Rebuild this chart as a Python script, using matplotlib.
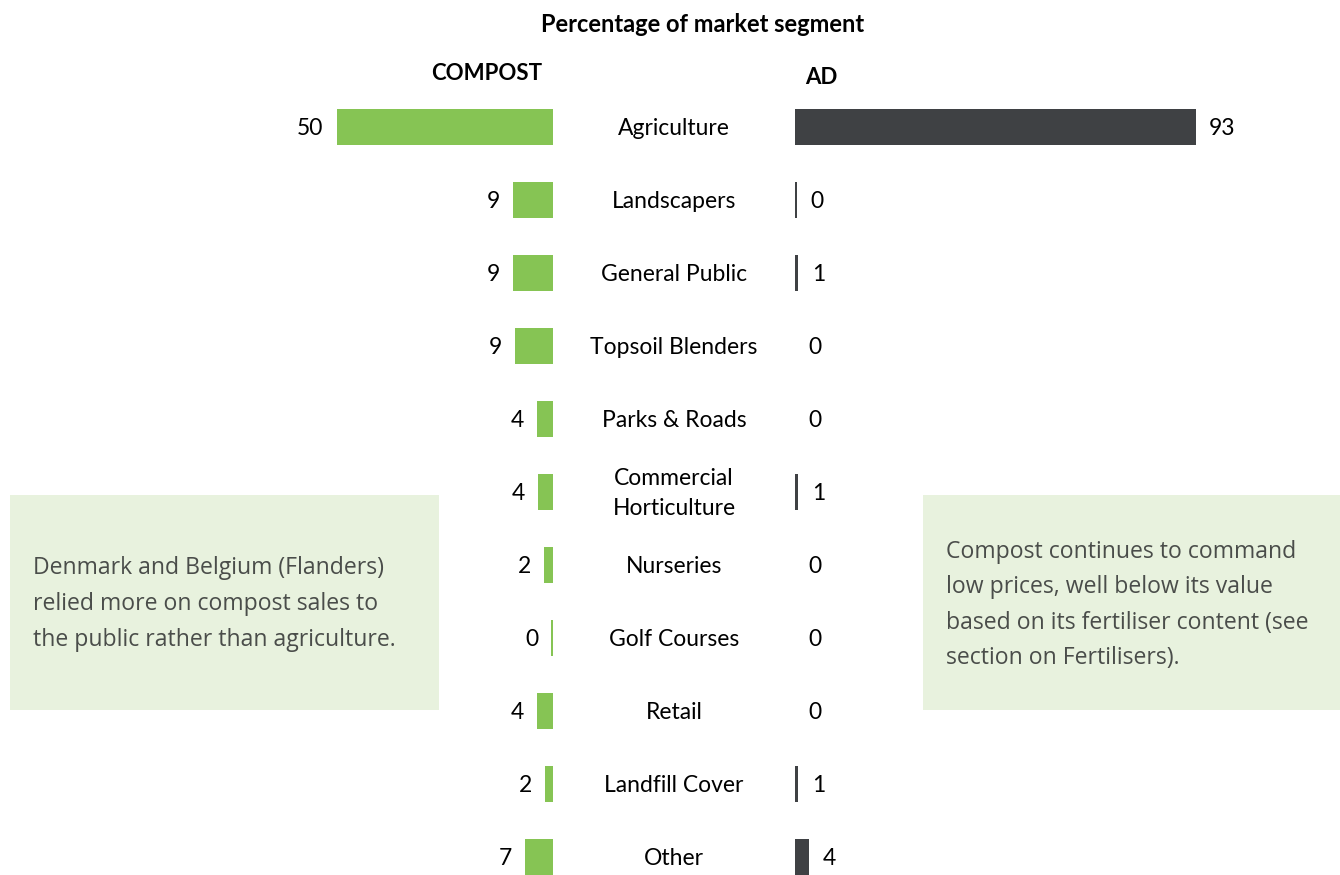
import matplotlib
matplotlib.use("Agg")
import matplotlib.pyplot as plt
from matplotlib.patches import Rectangle
import matplotlib.transforms as mtransforms

categories = ["Agriculture", "Landscapers", "General Public", "Topsoil Blenders",
              "Parks & Roads", "Commercial\nHorticulture", "Nurseries", "Golf Courses",
              "Retail", "Landfill Cover", "Other"]
compost_values = [50, 9.2, 9.2, 8.8, 3.7, 3.5, 2.0, 0.4, 3.7, 1.8, 6.5]
compost_labels = ["50", "9", "9", "9", "4", "4", "2", "0", "4", "2", "7"]
ad_values = [92.6, 0.4, 0.8, 0, 0, 0.8, 0, 0, 0, 0.8, 3.3]
ad_labels = ["93", "0", "1", "0", "0", "1", "0", "0", "0", "1", "4"]

title = "Percentage of market segment"
left_heading = "COMPOST"
right_heading = "AD"
note_left = "Denmark and Belgium (Flanders)\nrelied more on compost sales to\nthe public rather than agriculture."
note_right = "Compost continues to command\nlow prices, well below its value\nbased on its fertiliser content (see\nsection on Fertilisers)."

GREEN = "#86c454"
DARK = "#3f4144"
BOX = "#e8f2de"
NOTE_TXT = "#4a4d4a"

W, H = 1340, 875
fig = plt.figure(figsize=(W / 100, H / 100), dpi=100)
fig.patch.set_facecolor("white")

def px_rect(x0, y0, x1, y1):
    return [x0 / W, 1 - y1 / H, (x1 - x0) / W, (y1 - y0) / H]

fig.patches.append(Rectangle((10 / W, 1 - 710 / H), (439 - 10) / W, (710 - 495) / H,
                             transform=fig.transFigure, facecolor=BOX, edgecolor="none", zorder=0))
fig.patches.append(Rectangle((923 / W, 1 - 710 / H), (1340 - 923) / W, (710 - 495) / H,
                             transform=fig.transFigure, facecolor=BOX, edgecolor="none", zorder=0))

scale = 4.33  # px per unit
top_px = 127 - 0.5 * 73
bot_px = 127 + 10.24 * 73
axL = fig.add_axes(px_rect(553 - 60 * scale, top_px, 553, bot_px))
axR = fig.add_axes(px_rect(795, top_px, 795 + 100 * scale, bot_px))

ypos = list(range(len(categories)))
for ax in (axL, axR):
    ax.set_ylim(10.24, -0.5)
    ax.axis("off")
    ax.patch.set_alpha(0)
axL.set_xlim(60, 0)
axR.set_xlim(0, 100)

axL.barh(ypos, compost_values, height=0.5, color=GREEN, edgecolor="none")
axR.barh(ypos, ad_values, height=0.5, color=DARK, edgecolor="none")

fnt = "Lato"
for y, v, lab in zip(ypos, compost_values, compost_labels):
    axL.annotate(lab, (v, y), xytext=(-9.5, -1), textcoords="offset points",
                 ha="right", va="center", fontsize=16.5, family=fnt, color="black")
for y, v, lab in zip(ypos, ad_values, ad_labels):
    axR.annotate(lab, (v, y), xytext=(9.5, -1), textcoords="offset points",
                 ha="left", va="center", fontsize=16.5, family=fnt, color="black")

trans = mtransforms.blended_transform_factory(fig.transFigure, axL.transData)
for y, c in zip(ypos, categories):
    fig.text(674 / W, y + 0.02, c, transform=trans, ha="center", va="center",
             fontsize=16.5, family=fnt, color="black", linespacing=1.5)

fig.text(703 / W, 1 - 25 / H, title, ha="center", va="center", fontsize=17,
         family=fnt, fontweight="bold", color="black")
fig.text(487 / W, 1 - 73 / H, left_heading, ha="center", va="center", fontsize=16,
         family=fnt, fontweight="bold", color="black")
fig.text(821 / W, 1 - 78 / H, right_heading, ha="center", va="center", fontsize=16,
         family=fnt, fontweight="bold", color="black")

fig.text(33 / W, 1 - 604 / H, note_left, ha="left", va="center", fontsize=16.6,
         family="Open Sans", color=NOTE_TXT, linespacing=1.64)
fig.text(946 / W, 1 - 605 / H, note_right, ha="left", va="center", fontsize=16.6,
         family="Open Sans", color=NOTE_TXT, linespacing=1.64)

fig.savefig("out.png", dpi=100, facecolor="white")
